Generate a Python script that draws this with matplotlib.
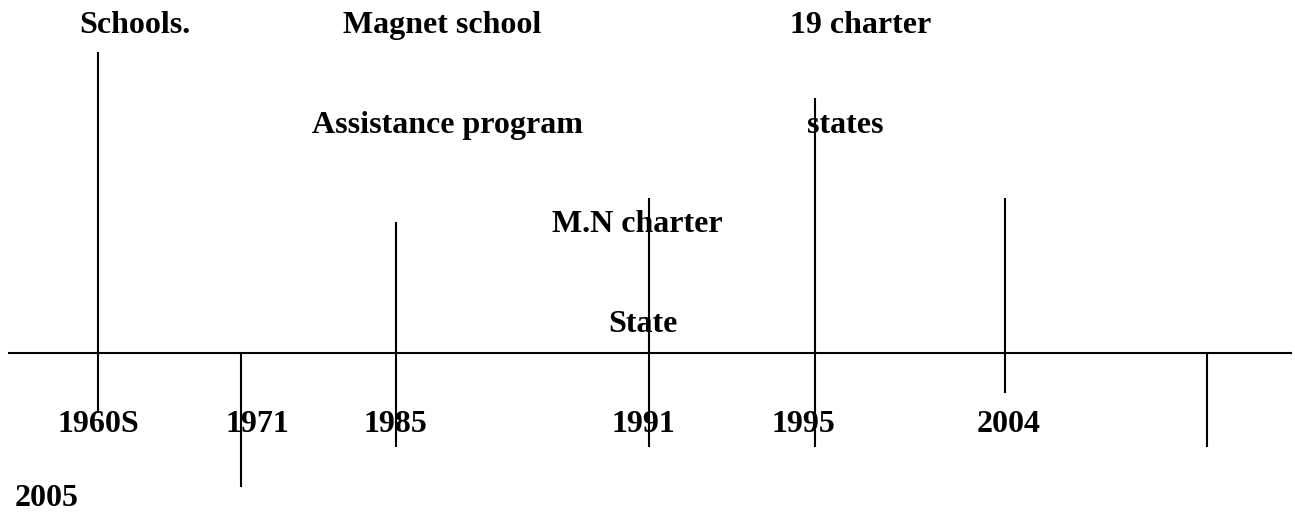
import matplotlib
matplotlib.use("Agg")
import matplotlib.pyplot as plt

# timeline: main axis and the vertical markers (x, top, bottom) in pixel units
axis_y = 353
axis_span = [8, 1292]
marker_x = [98, 241, 396, 649, 815, 1005, 1207]
marker_top = [52, 353, 222, 198, 98, 198, 353]
marker_bottom = [413, 487, 447, 447, 447, 393, 447]

# year labels along the bottom
years = ['1960S', '1971', '1985', '1991', '1995', '2004', '2005']
year_x = [57, 226, 363, 612, 771, 977, 15]
year_y = [432, 432, 432, 432, 432, 432, 506]

# event texts above the axis
events = ['Schools.', 'Magnet school', '19 charter', 'Assistance program',
          'states', 'M.N charter', 'State']
event_x = [79, 343, 790, 312, 807, 552, 608]
event_y = [33, 33, 33, 133, 133, 232, 332]

fig = plt.figure(figsize=(12.95, 5.12), dpi=100)
ax = fig.add_axes([0, 0, 1, 1])
ax.set_xlim(0, 1295)
ax.set_ylim(512, 0)
ax.axis('off')

lw = 1.5
ax.plot(axis_span, [axis_y, axis_y], color='black', lw=lw, solid_capstyle='butt')
for x, t, b in zip(marker_x, marker_top, marker_bottom):
    ax.plot([x, x], [t, b], color='black', lw=lw, solid_capstyle='butt')

font = dict(family='Liberation Serif', fontweight='bold', fontsize=23,
            ha='left', va='baseline', color='black')
for s, x, y in zip(years, year_x, year_y):
    ax.text(x, y, s, **font)
for s, x, y in zip(events, event_x, event_y):
    ax.text(x, y, s, **font)

fig.savefig('out.png', dpi=100)
